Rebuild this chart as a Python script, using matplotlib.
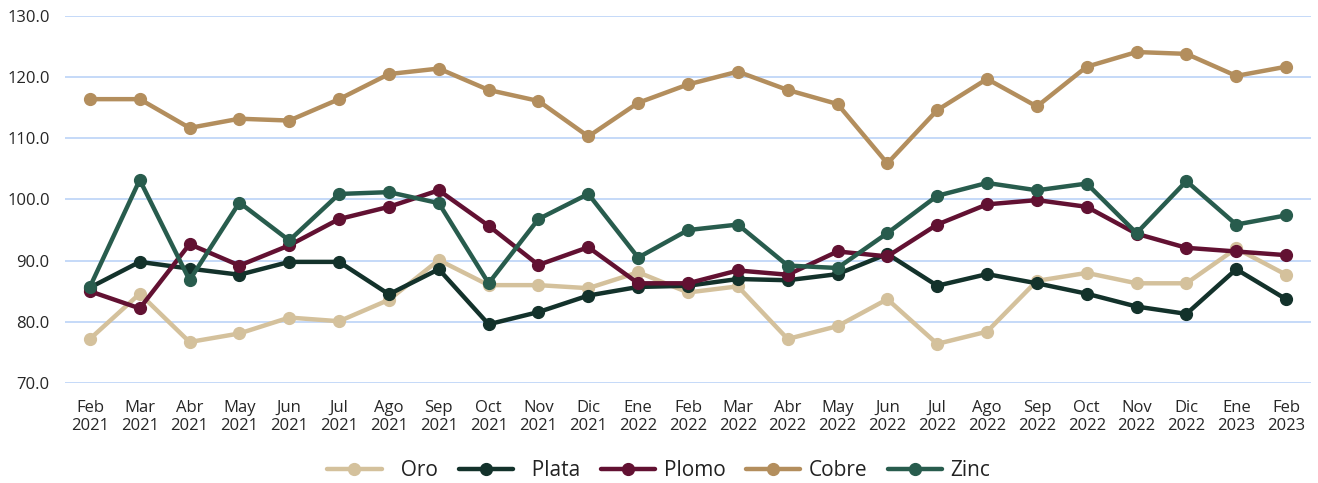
import matplotlib
matplotlib.use("Agg")
import matplotlib.pyplot as plt
from matplotlib.ticker import FormatStrFormatter

meses = ["Feb\n2021", "Mar\n2021", "Abr\n2021", "May\n2021", "Jun\n2021", "Jul\n2021",
         "Ago\n2021", "Sep\n2021", "Oct\n2021", "Nov\n2021", "Dic\n2021", "Ene\n2022",
         "Feb\n2022", "Mar\n2022", "Abr\n2022", "May\n2022", "Jun\n2022", "Jul\n2022",
         "Ago\n2022", "Sep\n2022", "Oct\n2022", "Nov\n2022", "Dic\n2022", "Ene\n2023",
         "Feb\n2023"]

oro = [77.2, 84.6, 76.7, 78.1, 80.7, 80.1, 83.6, 90.1, 86.0, 86.0, 85.5, 88.1, 84.8,
       85.8, 77.2, 79.3, 83.7, 76.4, 78.4, 86.7, 88.0, 86.3, 86.3, 92.0, 87.7]
plata = [85.6, 89.8, 88.7, 87.7, 89.8, 89.8, 84.5, 88.6, 79.6, 81.6, 84.3, 85.7, 85.9,
         87.0, 86.8, 87.8, 91.1, 85.9, 87.8, 86.3, 84.6, 82.5, 81.3, 88.6, 83.7]
plomo = [85.0, 82.2, 92.7, 89.2, 92.5, 96.8, 98.8, 101.5, 95.7, 89.3, 92.2, 86.3, 86.3,
         88.4, 87.7, 91.5, 90.7, 95.9, 99.2, 99.9, 98.8, 94.4, 92.1, 91.5, 90.9]
cobre = [116.4, 116.4, 111.7, 113.2, 112.9, 116.4, 120.5, 121.4, 117.9, 116.1, 110.3,
         115.8, 118.8, 120.9, 117.9, 115.6, 105.9, 114.6, 119.7, 115.2, 121.7, 124.1,
         123.8, 120.2, 121.7]
zinc = [85.7, 103.2, 86.8, 99.5, 93.3, 100.9, 101.2, 99.4, 86.3, 96.8, 100.9, 90.5, 95.0,
        95.9, 89.2, 88.8, 94.5, 100.6, 102.7, 101.5, 102.6, 94.5, 103.0, 95.9, 97.4]

series = [
    ("  Oro", oro, "#D4C19C"),
    ("  Plata", plata, "#13322B"),
    ("Plomo", plomo, "#621132"),
    ("Cobre", cobre, "#B38E5D"),
    ("Zinc", zinc, "#285C4D"),
]

plt.rcParams["font.family"] = ["Open Sans", "DejaVu Sans"]

fig = plt.figure(figsize=(13.18, 4.83), dpi=100)
ax = fig.add_axes([0.0493, 0.207, 0.9454, 0.76])

x = list(range(len(meses)))
for nombre, valores, color in series:
    ax.plot(x, valores, color=color, label=nombre, linewidth=3.2, marker="o",
            markersize=8.5, solid_capstyle="round")

ax.set_xlim(-0.5, len(meses) - 0.5)
ax.set_ylim(70, 130)
ax.set_yticks(range(70, 131, 10))
ax.yaxis.set_major_formatter(FormatStrFormatter("%.1f"))
ax.set_xticks(x)
ax.set_xticklabels(meses)
ax.tick_params(length=0, labelsize=12, colors="#262626")
ax.tick_params(axis="y", pad=11)
ax.tick_params(axis="x", pad=12)
ax.grid(axis="y", color="#C5D9F8", linewidth=1.4)
ax.set_axisbelow(True)
for s in ax.spines.values():
    s.set_visible(False)

fig.legend(loc="center", bbox_to_anchor=(0.5, 0.025), ncol=5, frameon=False,
           fontsize=15, handlelength=2.6, columnspacing=1.0, handletextpad=0.4,
           labelcolor="#222222")

fig.savefig("out.png", dpi=100)
